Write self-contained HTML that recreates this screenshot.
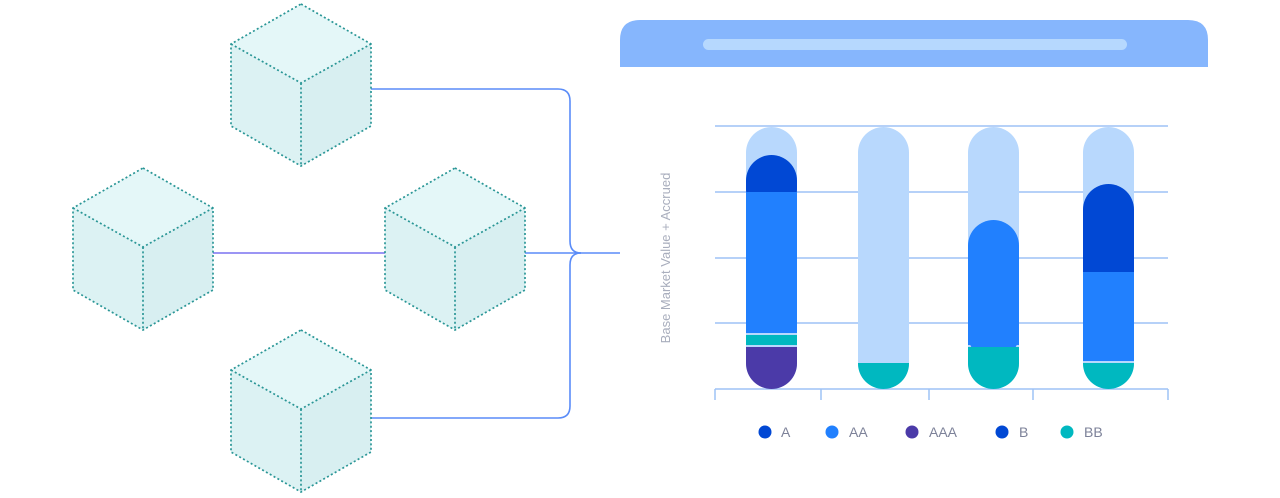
<!DOCTYPE html>
<html><head><meta charset="utf-8"><style>
html,body{margin:0;padding:0;background:#fff;width:1280px;height:498px;overflow:hidden}
</style></head><body>
<svg width="1280" height="498" viewBox="0 0 1280 498" xmlns="http://www.w3.org/2000/svg">
<defs>
<g id="cube">
  <polygon points="0,-81 70,-41 0,-2 -70,-41" fill="#e4f7f8"/>
  <polygon points="-70,-41 0,-2 0,81 -70,41" fill="#dcf2f3"/>
  <polygon points="70,-41 0,-2 0,81 70,41" fill="#d8eff1"/>
  <g fill="none" stroke="#2a9696" stroke-width="1.7" stroke-dasharray="2 2.4">
    <polygon points="0,-81 70,-41 70,41 0,81 -70,41 -70,-41"/>
    <polyline points="-70,-41 0,-2 70,-41"/>
    <line x1="0" y1="-2" x2="0" y2="81"/>
  </g>
</g>
<clipPath id="c1"><rect x="746" y="127" width="51" height="262" rx="25.5"/></clipPath>
<clipPath id="c2"><rect x="858" y="127" width="51" height="262" rx="25.5"/></clipPath>
<clipPath id="c3"><rect x="968" y="127" width="51" height="262" rx="25.5"/></clipPath>
<clipPath id="c4"><rect x="1083" y="127" width="51" height="262" rx="25.5"/></clipPath>
</defs>

<g fill="none" stroke="#5a8cf8" stroke-width="1.6">
  <path d="M371,89 H558 Q570,89 570,101 V241 Q570,253 581,253"/>
  <path d="M371,418 H558 Q570,418 570,406 V265 Q570,253 581,253"/>
  <line x1="525" y1="253" x2="620" y2="253"/>
</g>
<line x1="213" y1="253" x2="385" y2="253" stroke="#7a72f0" stroke-width="1.6"/>

<use href="#cube" x="301" y="85"/>
<use href="#cube" x="143" y="249"/>
<use href="#cube" x="455" y="249"/>
<use href="#cube" x="301" y="411"/>

<path d="M620,67 V40 Q620,20 640,20 H1188 Q1208,20 1208,40 V67 Z" fill="#86b6fd"/>
<rect x="703" y="39" width="424" height="11" rx="5.5" fill="#b6d8fe"/>

<g stroke="#9ec2f6" stroke-width="1.5">
  <line x1="715" y1="126" x2="1168" y2="126"/>
  <line x1="715" y1="192" x2="1168" y2="192"/>
  <line x1="715" y1="258" x2="1168" y2="258"/>
  <line x1="715" y1="323" x2="1168" y2="323"/>
  <line x1="715" y1="389" x2="1168" y2="389"/>
  <line x1="715" y1="389" x2="715" y2="400"/>
  <line x1="821" y1="389" x2="821" y2="400"/>
  <line x1="929" y1="389" x2="929" y2="400"/>
  <line x1="1033" y1="389" x2="1033" y2="400"/>
  <line x1="1168" y1="389" x2="1168" y2="400"/>
</g>

<g clip-path="url(#c1)">
  <rect x="746" y="127" width="51" height="262" fill="#b8d8fd"/>
  <rect x="746" y="155" width="51" height="60" rx="25.5" fill="#0148d4"/>
  <rect x="746" y="192" width="51" height="141" fill="#2180fe"/>
  <rect x="746" y="335" width="51" height="10" fill="#00b8c0"/>
  <rect x="746" y="347" width="51" height="42" fill="#4b3aa8"/>
</g>
<g clip-path="url(#c2)">
  <rect x="858" y="127" width="51" height="262" fill="#b8d8fd"/>
  <rect x="858" y="363" width="51" height="26" fill="#00b8c0"/>
</g>
<g clip-path="url(#c3)">
  <rect x="968" y="127" width="51" height="262" fill="#b8d8fd"/>
  <rect x="968" y="220" width="51" height="140" rx="25.5" fill="#2180fe"/>
  <rect x="968" y="300" width="51" height="45" fill="#2180fe"/>
  <rect x="968" y="347" width="51" height="42" fill="#00b8c0"/>
</g>
<g clip-path="url(#c4)">
  <rect x="1083" y="127" width="51" height="262" fill="#b8d8fd"/>
  <rect x="1083" y="184" width="51" height="120" rx="25.5" fill="#0148d4"/>
  <rect x="1083" y="240" width="51" height="30" fill="#0148d4"/>
  <rect x="1083" y="272" width="51" height="89" fill="#2180fe"/>
  <rect x="1083" y="363" width="51" height="26" fill="#00b8c0"/>
</g>

<text transform="translate(670,258) rotate(-90)" text-anchor="middle" font-family="Liberation Sans, sans-serif" font-size="13" fill="#a9aebd">Base Market Value + Accrued</text>

<g font-family="Liberation Sans, sans-serif" font-size="14" fill="#7d8299">
  <circle cx="765" cy="432" r="6.5" fill="#0148d4"/><text x="781" y="437">A</text>
  <circle cx="832" cy="432" r="6.5" fill="#2180fe"/><text x="849" y="437">AA</text>
  <circle cx="912" cy="432" r="6.5" fill="#4b3aa8"/><text x="929" y="437">AAA</text>
  <circle cx="1002" cy="432" r="6.5" fill="#0148d4"/><text x="1019" y="437">B</text>
  <circle cx="1067" cy="432" r="6.5" fill="#00b8c0"/><text x="1084" y="437">BB</text>
</g>
</svg>
</body></html>
